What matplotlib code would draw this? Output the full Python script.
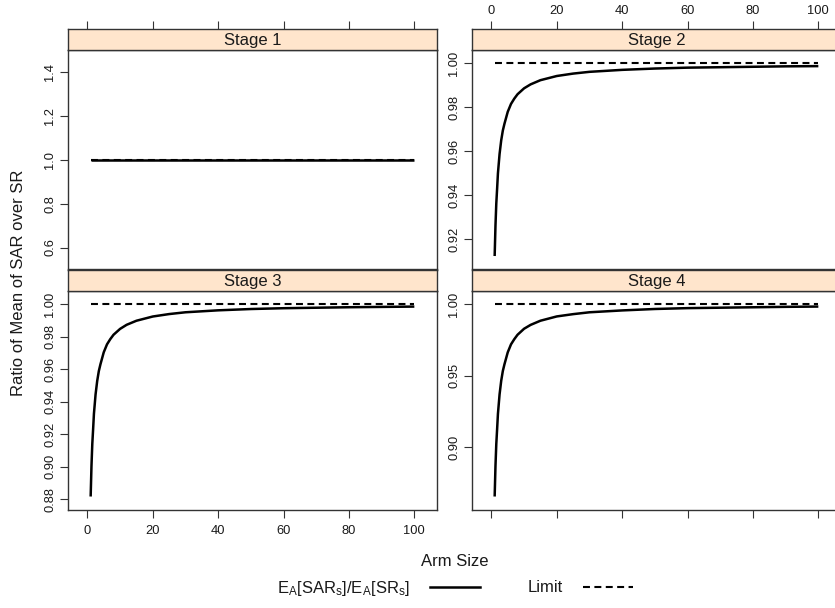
import matplotlib
matplotlib.use('Agg')
import matplotlib.pyplot as plt
from matplotlib.lines import Line2D

plt.rcParams['font.family'] = ['Liberation Sans', 'DejaVu Sans']
plt.rcParams['mathtext.fontset'] = 'custom'
plt.rcParams['mathtext.rm'] = 'Liberation Sans'
plt.rcParams['mathtext.it'] = 'Liberation Sans:italic'
plt.rcParams['lines.scale_dashes'] = False

# ---------------- data ----------------
arm_size = [1, 1.25, 1.5, 1.75, 2, 2.5, 3, 3.5, 4, 5, 6, 7, 8, 10, 12, 15, 20, 25,
            30, 40, 50, 60, 70, 80, 90, 100]

stage1 = [1.0, 1.0, 1.0, 1.0, 1.0, 1.0, 1.0, 1.0, 1.0, 1.0, 1.0, 1.0, 1.0,
          1.0, 1.0, 1.0, 1.0, 1.0, 1.0, 1.0, 1.0, 1.0, 1.0, 1.0, 1.0, 1.0]
stage2 = [0.9124, 0.9263, 0.9363, 0.9430, 0.9500, 0.9588, 0.9650, 0.9695, 0.9726,
          0.9780, 0.9816, 0.9840, 0.9860, 0.9887, 0.9905, 0.9924, 0.9943, 0.9954,
          0.9962, 0.9971, 0.9977, 0.9981, 0.9983, 0.9985, 0.9987, 0.9988]
stage3 = [0.8817, 0.9005, 0.9140, 0.9230, 0.9325, 0.9444, 0.9527, 0.9588, 0.9630,
          0.9703, 0.9752, 0.9784, 0.9811, 0.9847, 0.9872, 0.9897, 0.9923, 0.9938,
          0.9949, 0.9961, 0.9969, 0.9974, 0.9977, 0.9980, 0.9982, 0.9984]
stage4 = [0.8655, 0.8869, 0.9022, 0.9125, 0.9232, 0.9368, 0.9463, 0.9532, 0.9579,
          0.9662, 0.9718, 0.9754, 0.9785, 0.9827, 0.9854, 0.9883, 0.9913, 0.9929,
          0.9942, 0.9955, 0.9965, 0.9971, 0.9974, 0.9977, 0.9980, 0.9982]
limit = [1.0, 1.0, 1.0, 1.0, 1.0, 1.0, 1.0, 1.0, 1.0, 1.0, 1.0, 1.0, 1.0,
         1.0, 1.0, 1.0, 1.0, 1.0, 1.0, 1.0, 1.0, 1.0, 1.0, 1.0, 1.0, 1.0]

stage_names = ['Stage 1', 'Stage 2', 'Stage 3', 'Stage 4']
series = [stage1, stage2, stage3, stage4]
x_ticks = [0, 20, 40, 60, 80, 100]
y_ticks = [[0.6, 0.8, 1.0, 1.2, 1.4],
           [0.92, 0.94, 0.96, 0.98, 1.00],
           [0.88, 0.90, 0.92, 0.94, 0.96, 0.98, 1.00],
           [0.90, 0.95, 1.00]]
y_fmt = ['{:.1f}', '{:.2f}', '{:.2f}', '{:.2f}']
legend_labels = [r'$\mathregular{E_A[SAR_s]/E_A[SR_s]}$', 'Limit']
xlabel = 'Arm Size'
ylabel = 'Ratio of Mean of SAR over SR'

# ---------------- layout ----------------
W, H = 835, 608
fig = plt.figure(figsize=(W / 100, H / 100), dpi=100)

def rect(l, t, w, h):
    return [l / W, 1 - (t + h) / H, w / W, h / H]

PW, PH, SH = 369, 219.5, 21
lefts = [68, 472, 68, 472]
tops = [50, 50, 290.5, 290.5]
frame = '#333333'
txt = '#1a1a1a'
strip_bg = '#ffe5cc'
pad_frac = 0.07
tick_fs = 9.3

xmin, xmax = min(arm_size), max(arm_size)
xr = xmax - xmin
xlim = (xmin - pad_frac * xr, xmax + pad_frac * xr)

for i in range(4):
    ys = series[i] + limit
    lo, hi = min(ys), max(ys)
    if hi - lo < 1e-9:
        ylim = (lo - 0.5, hi + 0.5)
    else:
        r = hi - lo
        ylim = (lo - pad_frac * r, hi + pad_frac * r)

    ax = fig.add_axes(rect(lefts[i], tops[i], PW, PH))
    ax.plot(arm_size, series[i], color='black', lw=1.8, solid_capstyle='butt',
            solid_joinstyle='round')
    ax.plot(arm_size, limit, color='black', lw=1.5, dashes=(5, 3.2))
    ax.set_xlim(*xlim)
    ax.set_ylim(*ylim)
    for s in ax.spines.values():
        s.set_color(frame)
        s.set_linewidth(1.0)
    ax.set_yticks(y_ticks[i])
    ax.set_yticklabels([y_fmt[i].format(v) for v in y_ticks[i]])
    ax.tick_params(axis='y', left=True, right=False, direction='out', length=5.8,
                   width=0.8, color=frame, labelsize=tick_fs, labelcolor=txt, pad=2.5,
                   labelrotation=90)
    for lab in ax.get_yticklabels():
        lab.set_va('center')
    ax.set_xticks(x_ticks)
    if i >= 2:
        ax.tick_params(axis='x', bottom=True, top=False, direction='out', length=5.8,
                       width=0.8, color=frame, labelsize=tick_fs, labelcolor=txt, pad=5,
                       labelbottom=(i == 2))
    else:
        ax.tick_params(axis='x', bottom=False, top=False, labelbottom=False)

    # strip
    sax = fig.add_axes(rect(lefts[i], tops[i] - SH, PW, SH))
    sax.set_facecolor(strip_bg)
    sax.set_xlim(*xlim)
    sax.set_ylim(0, 1)
    sax.set_yticks([])
    for s in sax.spines.values():
        s.set_color(frame)
        s.set_linewidth(1.0)
    sax.text(0.5, 0.45, stage_names[i], transform=sax.transAxes, ha='center',
             va='center', fontsize=12, color=txt)
    if i < 2:
        sax.set_xticks(x_ticks)
        sax.tick_params(axis='x', bottom=False, top=True, direction='out', length=5.8,
                        width=0.8, color=frame, labelsize=tick_fs, labelcolor=txt, pad=3,
                        labelbottom=False, labeltop=(i == 1))
    else:
        sax.set_xticks([])

fig.text(455 / W, 1 - 562 / H, xlabel, ha='center', va='center', fontsize=12, color=txt)
fig.text(19 / W, 1 - 283 / H, ylabel, ha='center', va='center', rotation=90,
         fontsize=12, color=txt)

handles = [Line2D([], [], color='black', lw=1.8),
           Line2D([], [], color='black', lw=1.5, dashes=(5, 3.2))]
fig.legend(handles, legend_labels, loc='center', bbox_to_anchor=(455 / W, 1 - 588 / H),
           ncol=2, frameon=False, fontsize=12, markerfirst=False, handlelength=3.0,
           handletextpad=1.2, columnspacing=2.9, labelcolor=txt)

fig.savefig('out.png', dpi=100)
